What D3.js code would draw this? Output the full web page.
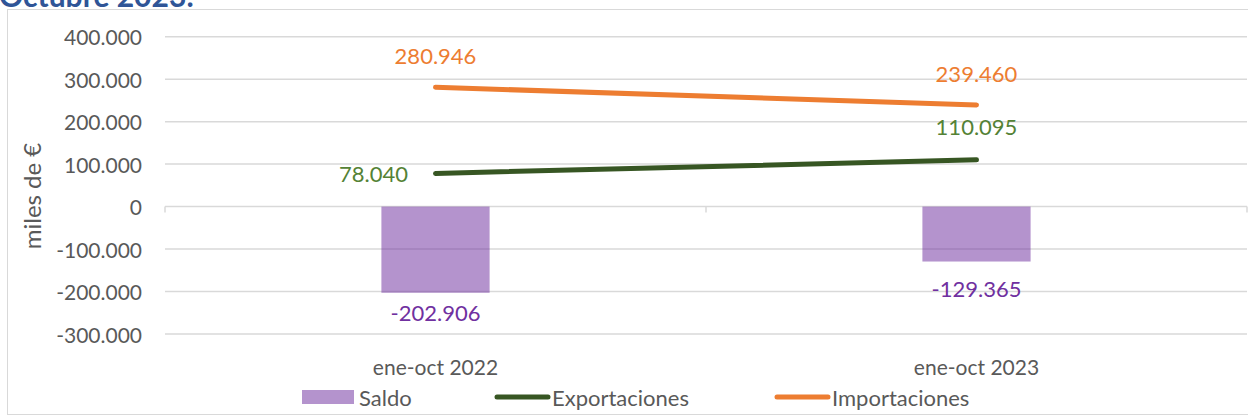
<!DOCTYPE html>
<html>
<head>
<meta charset="utf-8">
<script src="https://cdn.jsdelivr.net/npm/d3@7"></script>
<style>
  body { margin: 0; background: #fff; }
  svg { display: block; font-family: Lato, "Open Sans", sans-serif; }
</style>
</head>
<body>
<div id="chart"></div>
<script>
// data
const categories = ["ene-oct 2022", "ene-oct 2023"];
const saldo = [-202906, -129365];
const exportaciones = [78040, 110095];
const importaciones = [280946, 239460];
const yTicks = [400000, 300000, 200000, 100000, 0, -100000, -200000, -300000];
const legendLabels = ["Saldo", "Exportaciones", "Importaciones"];

const W = 1248, H = 416;
const plot = { left: 165, right: 1247, top: 36.7, bottom: 334 };

// spanish style: dot thousands, plain hyphen minus
const locale = d3.formatLocale({ decimal: ",", thousands: ".", grouping: [3], currency: ["", " €"], minus: "-" });
const fmt = locale.format(",");

const svg = d3.select("#chart")
    .append("svg")
    .attr("width", W)
    .attr("height", H);

// cut-off title at the very top
svg.append("text")
    .attr("x", -1)
    .attr("y", 7)
    .attr("fill", "#2F5597")
    .attr("font-weight", "bold")
    .style("font-size", "30px")
    .text("Octubre 2023:");

// chart frame
svg.append("rect")
    .attr("x", 7.5).attr("y", 9.5)
    .attr("width", W + 10).attr("height", 405)
    .attr("fill", "#fff")
    .attr("stroke", "#D9D9D9");

const x = d3.scaleBand()
    .domain(categories)
    .range([plot.left, plot.right])
    .paddingInner(0).paddingOuter(0);

const y = d3.scaleLinear()
    .domain([-300000, 400000])
    .range([plot.bottom, plot.top]);

// gridlines
svg.append("g")
    .selectAll("line")
    .data(yTicks)
    .join("line")
    .attr("x1", plot.left).attr("x2", plot.right)
    .attr("y1", d => y(d)).attr("y2", d => y(d))
    .attr("stroke", "#D9D9D9")
    .attr("stroke-width", 1.5);

// category tick marks on zero line
const bounds = categories.map(c => x(c)).concat([x.range()[1]]);
svg.append("g")
    .selectAll("line")
    .data(bounds)
    .join("line")
    .attr("x1", d => d).attr("x2", d => d)
    .attr("y1", y(0)).attr("y2", y(0) + 6)
    .attr("stroke", "#D9D9D9")
    .attr("stroke-width", 1.5);

// y tick labels
svg.append("g")
    .selectAll("text")
    .data(yTicks)
    .join("text")
    .attr("x", 142)
    .attr("y", d => y(d))
    .attr("text-anchor", "end")
    .attr("dominant-baseline", "central")
    .attr("fill", "#595959")
    .style("font-size", "21px")
    .text(d => fmt(d));

// y axis title
svg.append("text")
    .attr("transform", `translate(31,${196}) rotate(-90)`)
    .attr("text-anchor", "middle")
    .attr("dominant-baseline", "central")
    .attr("fill", "#595959")
    .style("font-size", "24px")
    .text("miles de €");

// category labels
svg.append("g")
    .selectAll("text")
    .data(categories)
    .join("text")
    .attr("x", d => x(d) + x.bandwidth() / 2)
    .attr("y", 366)
    .attr("text-anchor", "middle")
    .attr("dominant-baseline", "central")
    .attr("fill", "#595959")
    .style("font-size", "21px")
    .text(d => d);

// Saldo bars
const barW = x.bandwidth() * 0.2;
svg.append("g")
    .selectAll("rect")
    .data(saldo)
    .join("rect")
    .attr("x", (d, i) => x(categories[i]) + x.bandwidth() / 2 - barW / 2)
    .attr("y", d => y(Math.max(0, d)))
    .attr("width", barW)
    .attr("height", d => Math.abs(y(d) - y(0)))
    .attr("fill", "#7030A0")
    .attr("fill-opacity", 0.52);

// lines
const cx = i => x(categories[i]) + x.bandwidth() / 2;
const line = d3.line().x((d, i) => cx(i)).y(d => y(d));

svg.append("path")
    .datum(exportaciones)
    .attr("d", line)
    .attr("fill", "none")
    .attr("stroke", "#375623")
    .attr("stroke-width", 5)
    .attr("stroke-linecap", "round");

svg.append("path")
    .datum(importaciones)
    .attr("d", line)
    .attr("fill", "none")
    .attr("stroke", "#ED7D31")
    .attr("stroke-width", 5)
    .attr("stroke-linecap", "round");

// data labels
function labels(values, color, dx, dy) {
    svg.append("g")
        .selectAll("text")
        .data(values)
        .join("text")
        .attr("x", (d, i) => cx(i) + dx[i])
        .attr("y", (d, i) => y(d) + dy[i])
        .attr("text-anchor", "middle")
        .attr("dominant-baseline", "central")
        .attr("fill", color)
        .style("font-size", "22px")
        .text(d => fmt(d));
}
labels(importaciones, "#ED7D31", [0, 0], [-32, -31]);
labels(exportaciones, "#548235", [-62, 0], [0, -33]);
labels(saldo, "#7030A0", [0, 0], [20, 27]);

// legend
const legend = svg.append("g").attr("transform", "translate(0,397)");
const legendItems = [
    { label: legendLabels[0], x: 302, type: "rect", color: "#7030A0" },
    { label: legendLabels[1], x: 495, type: "line", color: "#375623" },
    { label: legendLabels[2], x: 775, type: "line", color: "#ED7D31" }
];
legendItems.forEach(it => {
    if (it.type === "rect") {
        legend.append("rect")
            .attr("x", it.x).attr("y", -7)
            .attr("width", 52).attr("height", 14)
            .attr("fill", it.color).attr("fill-opacity", 0.52);
    } else {
        legend.append("line")
            .attr("x1", it.x + 2).attr("x2", it.x + 53)
            .attr("y1", 0).attr("y2", 0)
            .attr("stroke", it.color)
            .attr("stroke-width", 5)
            .attr("stroke-linecap", "round");
    }
    legend.append("text")
        .attr("x", it.x + 57)
        .attr("y", 0)
        .attr("dominant-baseline", "central")
        .attr("fill", "#595959")
        .style("font-size", "22px")
        .text(it.label);
});
</script>
</body>
</html>
